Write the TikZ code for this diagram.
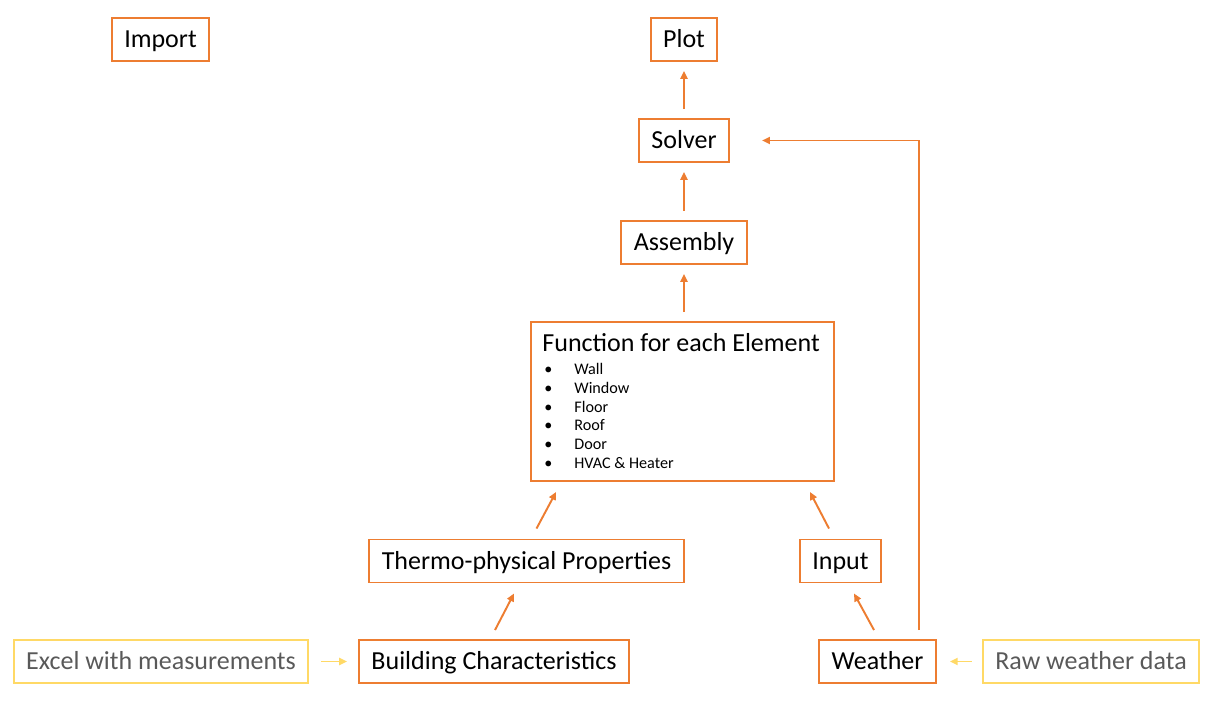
\documentclass[tikz,border=0pt]{standalone}
\usepackage{fontspec}
\setmainfont{Carlito}
\usepackage{xcolor}
\usepackage{tikz}
\usetikzlibrary{arrows.meta, positioning}
\definecolor{flowOrange}{RGB}{237, 125, 49}
\definecolor{sourceYellow}{RGB}{255, 217, 102}
\definecolor{sourceGrey}{RGB}{89, 89, 89}

\begin{document}
\begin{tikzpicture}[
    x=0.02cm, y=-0.02cm,
    block/.style={draw=#1, line width=1.1pt, minimum height=0.86cm,
                  inner xsep=0.25cm, text height=10.5pt, text depth=1pt,
                  font=\fontsize{14.8}{17}\selectfont},
    block/.default=flowOrange,
    source/.style={block=sourceYellow, text=sourceGrey},
    flow/.style={draw=#1, line width=1.1pt, -{Triangle[length=4.5pt, width=4pt]}},
    flow/.default=flowOrange,
    gap/.style={shorten <=0.18cm, shorten >=0.18cm}
]
    \useasboundingbox (0,0) rectangle (1212,702);

    % top row
    \node[block] (import) at (160.5,39.5) {Import};
    \node[block] (plot) at (684,39.5) {Plot};
    \node[block] (solver) at (684,140.5) {Solver};
    \node[block] (assembly) at (684,242.5) {Assembly};

    % element functions
    \node[draw=flowOrange, line width=1.1pt, minimum width=6.06cm, minimum height=3.18cm]
        (func) at (682.5,401.5) {};
    \node[anchor=base west, inner sep=0, font=\fontsize{14.8}{17}\selectfont]
        (functitle) at ([shift={(12,30)}]func.north west) {Function for each Element};
    \node[anchor=base west, inner sep=0, font=\fontsize{9.2}{10.8}\selectfont]
        (funclist) at ([shift={(14,53)}]func.north west) {%
        \begin{tabular}[t]{@{}p{0.6cm}@{}l@{}}
            \textbullet & Wall \\
            \textbullet & Window \\
            \textbullet & Floor \\
            \textbullet & Roof \\
            \textbullet & Door \\
            \textbullet & HVAC \& Heater
        \end{tabular}};

    % inputs
    \node[block] (thermo) at (526.5,561) {Thermo-physical Properties};
    \node[block] (input) at (840.5,561) {Input};
    \node[block] (building) at (494,661.5) {Building Characteristics};
    \node[block] (weather) at (877.5,661.5) {Weather};
    \node[source] (excel) at (161,661.5) {Excel with measurements};
    \node[source] (raw) at (1091,661.5) {Raw weather data};

    % connectors
    \draw[flow, gap] (solver) -- (plot);
    \draw[flow, gap] (assembly) -- (solver);
    \draw[flow, gap] (func.north -| assembly) -- (assembly);
    \draw[flow] ([shift={(10,-10)}]thermo.north) -- ([shift={(26,10)}]func.south west);
    \draw[flow] ([shift={(-11.5,-10)}]input.north) -- ([shift={(-25,10)}]func.south east);
    \draw[flow] ([shift={(1,-9)}]building.north) -- ([shift={(-12.5,10)}]thermo.south);
    \draw[flow] ([shift={(-3.5,-9)}]weather.north) -- ([shift={(13.5,10)}]input.south);
    \draw[flow] ([shift={(-18,-9)}]weather.north east) |- ([shift={(32,0)}]solver.east);
    \draw[flow=sourceYellow, shorten <=0.24cm, shorten >=0.22cm] (excel) -- (building);
    \draw[flow=sourceYellow, shorten <=0.2cm, shorten >=0.26cm] (raw) -- (weather);
\end{tikzpicture}
\end{document}
